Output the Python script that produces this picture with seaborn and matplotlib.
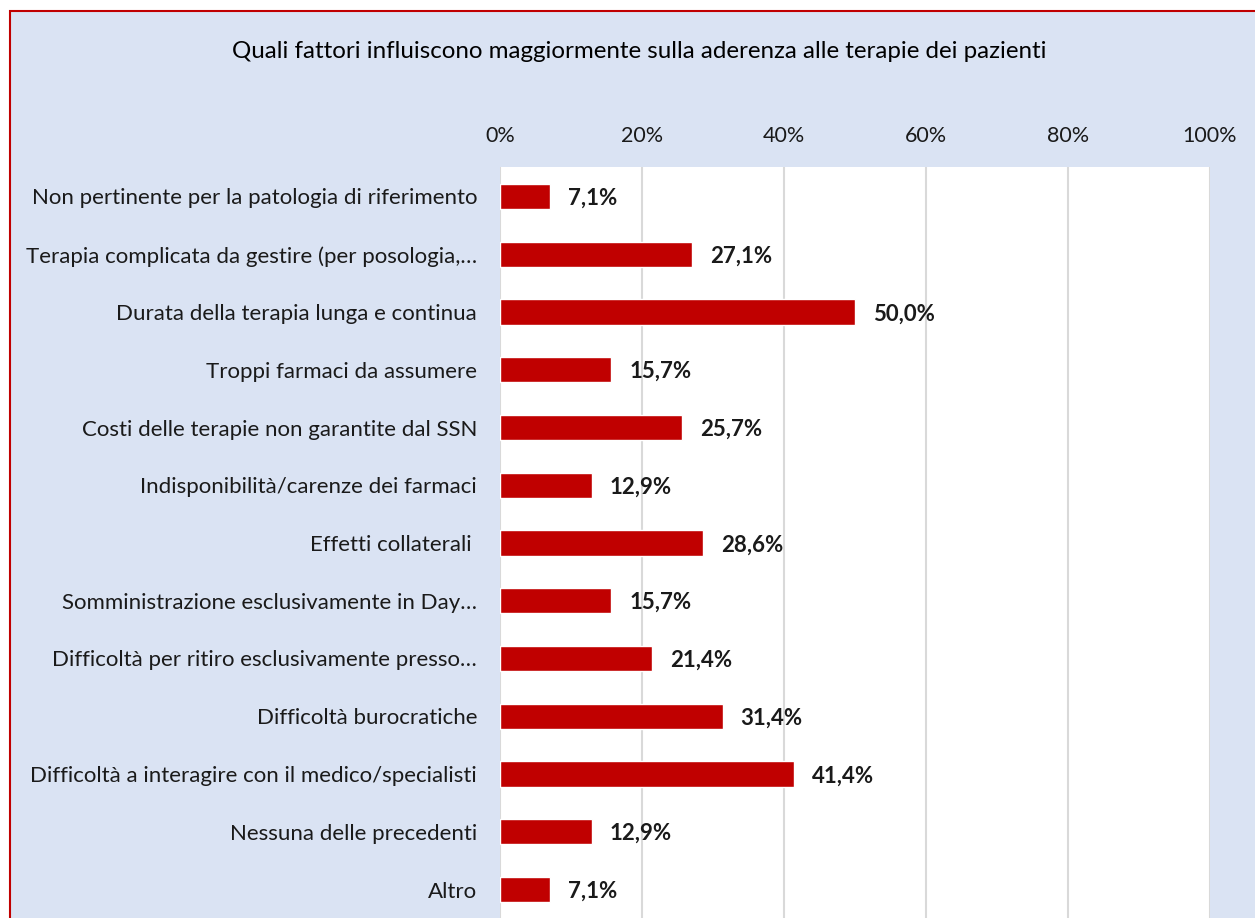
import matplotlib
matplotlib.use("Agg")
import matplotlib.pyplot as plt
import seaborn as sns
import pandas as pd
from matplotlib.patches import Rectangle

categories = [
    "Non pertinente per la patologia di riferimento",
    "Terapia complicata da gestire (per posologia,…",
    "Durata della terapia lunga e continua",
    "Troppi farmaci da assumere",
    "Costi delle terapie non garantite dal SSN",
    "Indisponibilità/carenze dei farmaci",
    "Effetti collaterali ",
    "Somministrazione esclusivamente in Day…",
    "Difficoltà per ritiro esclusivamente presso…",
    "Difficoltà burocratiche",
    "Difficoltà a interagire con il medico/specialisti",
    "Nessuna delle precedenti",
    "Altro",
]
values = [7.1, 27.1, 50.0, 15.7, 25.7, 12.9, 28.6, 15.7, 21.4, 31.4, 41.4, 12.9, 7.1]
xticks = [0, 20, 40, 60, 80, 100]
title = "Quali fattori influiscono maggiormente sulla aderenza alle terapie dei pazienti"

df = pd.DataFrame({"cat": categories, "val": values})

sns.set_style("white")
plt.rcParams["font.family"] = ["Lato", "DejaVu Sans"]

W, H = 1255, 918
fig = plt.figure(figsize=(W / 100, H / 100), dpi=100)
fig.patch.set_facecolor("white")

# background panel with red border
bg = Rectangle((10 / W, -0.1), 1.2, 1 - 11 / H + 0.1, transform=fig.transFigure,
               facecolor="#dae3f3", edgecolor="#c00000", linewidth=1.5, zorder=-10)
fig.patches.append(bg)

left, right = 500 / W, 1210 / W
top = 1 - 167 / H
ax = fig.add_axes([left, 0, right - left, top])
ax.set_zorder(5)
ax.set_facecolor("white")

sns.barplot(data=df, x="val", y="cat", orient="h", color="#c00000", width=0.435,
            saturation=1, ax=ax, zorder=3)

step = 57.75
ax.set_ylim((918 - 196.5) / step, -(196.5 - 167) / step)
ax.set_xlim(0, 100)

for i, v in enumerate(values):
    ax.text(v + 2.5, i + 0.03, f"{v:.1f}%".replace(".", ","), va="center", ha="left",
            fontsize=16, fontweight="bold", color="#1a1a1a", zorder=4)

ax.set_xticks(xticks)
ax.set_xticklabels([f"{t}%" for t in xticks])
ax.xaxis.tick_top()
ax.tick_params(axis="x", length=0, pad=15, labelsize=15.5, colors="#1a1a1a")
ax.tick_params(axis="y", length=0, pad=16.5, labelsize=16, colors="#1a1a1a")
ax.grid(axis="x", color="#d9d9d9", linewidth=1.5, zorder=0)
ax.set_axisbelow(True)
ax.set_xlabel("")
ax.set_ylabel("")
for s in ax.spines.values():
    s.set_visible(False)

fig.text((232 + 1047) / 2 / W, 1 - 51 / H, title, ha="center", va="center",
         fontsize=17.4, color="black")

fig.savefig("out.png", dpi=100)
